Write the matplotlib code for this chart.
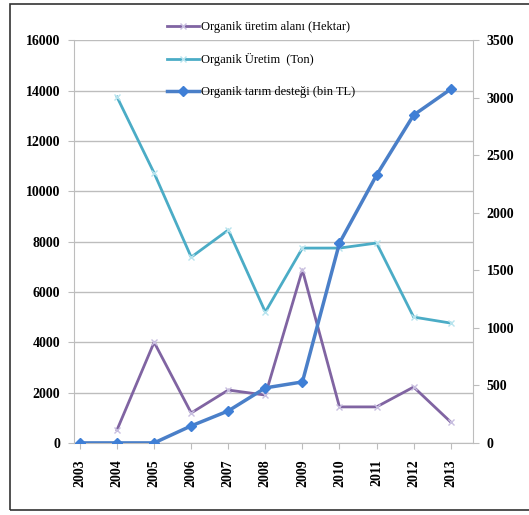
import matplotlib.pyplot as plt
from matplotlib.patches import Rectangle

years = list(range(2003, 2014))
alan_years = list(range(2004, 2014))
alan = [520, 4000, 1190, 2100, 1900, 6870, 1430, 1430, 2220, 830]
uretim_years = list(range(2004, 2014))
uretim = [13740, 10720, 7380, 8460, 5200, 7740, 7740, 7940, 5000, 4760]
destek = [0, 0, 0, 148, 278, 478, 530, 1737, 2327, 2849, 3074]

labels = ['Organik üretim alanı (Hektar)', 'Organik Üretim  (Ton)', 'Organik tarım desteği (bin TL)']

plt.rcParams['font.family'] = ['Liberation Serif', 'DejaVu Serif']

fig = plt.figure(figsize=(5.29, 5.15), dpi=100)
fig.patches.append(Rectangle((10 / 529, 1 - 510 / 515), 540 / 529, 506 / 515,
                             transform=fig.transFigure, fill=False,
                             edgecolor='#333333', linewidth=1.2))
ax = fig.add_axes([0.140, 0.140, 0.754, 0.782])
ax2 = ax.twinx()

l1, = ax.plot(alan_years, alan, color='#8064A2', lw=2, marker='x', ms=5, mew=1,
              mec='#c8bfe0', label=labels[0])
l2, = ax.plot(uretim_years, uretim, color='#4BACC6', lw=2, marker='x', ms=5, mew=1,
              mec='#b8e4ee', label=labels[1])
l3, = ax2.plot(years, destek, color='#4A7FC8', lw=2.5, marker='D', ms=5,
               mfc='#3F7FD6', mec='#3F7FD6', label=labels[2])

ax.set_ylim(0, 16000)
ax.set_yticks(range(0, 16001, 2000))
ax2.set_ylim(0, 3500)
ax2.set_yticks(range(0, 3501, 500))
ax.set_xlim(2002.84, 2013.6)
ax.set_xticks(years)
ax.set_xticklabels([str(y) for y in years], rotation=90, fontsize=10, fontweight='bold')
ax.grid(axis='y', color='#bdbdbd', lw=1)
ax.set_axisbelow(True)

for a in (ax, ax2):
    a.spines['top'].set_visible(False)
    for s in ('bottom', 'left', 'right'):
        a.spines[s].set_color('#bdbdbd')
ax.spines['right'].set_visible(False)
ax2.spines['bottom'].set_visible(False)
ax2.spines['left'].set_visible(False)

ax.tick_params(axis='y', length=4, color='#bdbdbd', labelsize=10, pad=6)
ax.tick_params(axis='x', length=4, color='#bdbdbd', labelsize=10, pad=8)
ax2.tick_params(axis='y', length=4, color='#bdbdbd', labelsize=10, pad=6)
for t in ax.get_yticklabels() + ax2.get_yticklabels():
    t.set_fontweight('bold')

leg = ax.legend(handles=[l1, l2, l3], loc='upper left', bbox_to_anchor=(0.22, 1.06),
                frameon=False, fontsize=9, labelspacing=1.6, handlelength=2.6,
                handletextpad=0.1, borderaxespad=0)
leg.set_zorder(5)

plt.savefig('out.png', dpi=100)
